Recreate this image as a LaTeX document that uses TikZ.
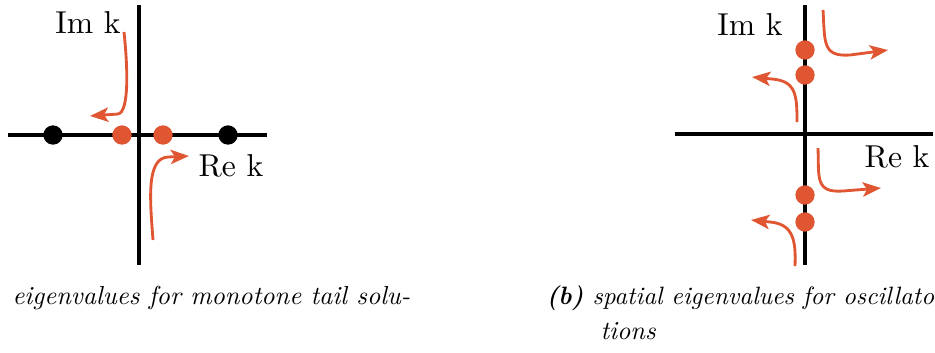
\documentclass[tikz,border=0pt]{standalone}
\usetikzlibrary{arrows.meta}
\definecolor{eigor}{RGB}{224,86,50}
\begin{document}
\begin{tikzpicture}[x=0.3pt,y=-0.3pt,
  axis/.style={line width=0.95pt,black},
  blackdot/.style={circle,fill=black,inner sep=0pt,minimum size=5.8pt},
  orangedot/.style={circle,fill=eigor,inner sep=0pt,minimum size=5.8pt},
  flow/.style={line width=0.85pt,eigor,-{Stealth[length=5.5pt,width=4.3pt,inset=1.3pt]}},
  lbl/.style={inner sep=0pt,font=\fontsize{9.5}{11}\selectfont},
  captext/.style={inner sep=0pt,anchor=base west,scale=0.78,transform shape,font=\fontsize{10}{12}\selectfont\itshape}]
\useasboundingbox (0,0) rectangle (935,352);
% ---------- left panel ----------
\coordinate (lvt) at (139,5);
\coordinate (lvb) at (139,265);
\coordinate (lhl) at (8,135);
\coordinate (lhr) at (267,135);
\draw[axis] (lvt) -- (lvb);
\draw[axis] (lhl) -- (lhr);
\node[blackdot] (lb1) at (53,135) {};
\node[blackdot] (lb2) at (228,135) {};
\node[orangedot] (lo1) at (122,135) {};
\node[orangedot] (lo2) at (163,135) {};
\node[lbl] (limk) at (88,22) {Im k};
\node[lbl] (lrek) at (231,166) {Re k};
\coordinate (l1s) at (124,32);
\coordinate (l1e) at (90,116);
\coordinate (l2s) at (153,240);
\coordinate (l2e) at (189,156);
\draw[flow] (l1s) .. controls (128,70) and (129,112) .. (118,114) -- (l1e);
\draw[flow] (l2s) .. controls (150,200) and (146,158) .. (168,157) -- (l2e);
% ---------- right panel ----------
\coordinate (rvt) at (805,5);
\coordinate (rvb) at (805,265);
\coordinate (rhl) at (675,134);
\coordinate (rhr) at (933,134);
\draw[axis] (rvt) -- (rvb);
\draw[axis] (rhl) -- (rhr);
\node[orangedot] (ro1) at (805,50) {};
\node[orangedot] (ro2) at (805,75) {};
\node[orangedot] (ro3) at (805,195) {};
\node[orangedot] (ro4) at (805,222) {};
\node[lbl] (rimk) at (750,25) {Im k};
\node[lbl] (rrek) at (897,157) {Re k};
\coordinate (rAs) at (823,10);
\coordinate (rAe) at (888,50);
\coordinate (rBs) at (797,122);
\coordinate (rBe) at (752,77);
\coordinate (rCs) at (818,148);
\coordinate (rCe) at (881,188);
\coordinate (rDs) at (795,266);
\coordinate (rDe) at (751,220);
\draw[flow] (rAs) .. controls (825,42) and (822,57) .. (850,55) -- (rAe);
\draw[flow] (rBs) .. controls (797,95) and (796,81) .. (772,79) -- (rBe);
\draw[flow] (rCs) .. controls (819,178) and (815,193) .. (843,191) -- (rCe);
\draw[flow] (rDs) .. controls (796,240) and (793,224) .. (770,222) -- (rDe);
% ---------- captions ----------
\node[captext] (capa) at (12,304) {eigenvalues for monotone tail solu-};
\node[captext,scale=0.965] (capb) at (546,304) {\textbf{(b)} spatial eigenvalues for oscillato};
\node[captext] (capc) at (600,339) {tions};
\end{tikzpicture}
\end{document}
